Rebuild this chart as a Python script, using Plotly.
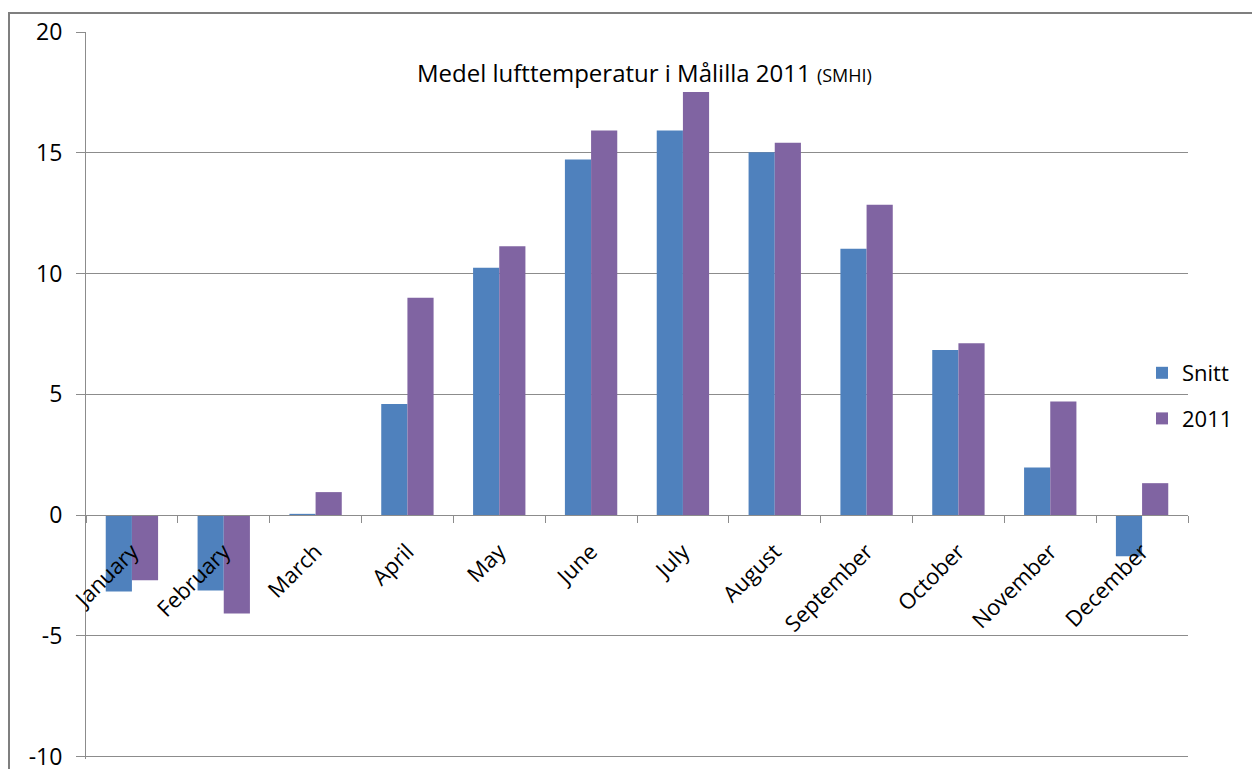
import plotly.graph_objects as go

months = ["January", "February", "March", "April", "May", "June", "July",
          "August", "September", "October", "November", "December"]
snitt = [-3.16, -3.12, 0.05, 4.6, 10.24, 14.72, 15.92, 15.02, 11.03, 6.83, 1.97, -1.71]
y2011 = [-2.70, -4.08, 0.95, 9.0, 11.13, 15.92, 17.52, 15.41, 12.85, 7.11, 4.7, 1.32]
y_ticks = [-10, -5, 0, 5, 10, 15, 20]
y_ticktext = ["-10", "-5", "0", "5", "10", "15", "20"]

FONT = "Open Sans"
GRID = "#8c8c8c"

fig = go.Figure()
fig.add_trace(go.Bar(name="Snitt", x=months, y=snitt, marker=dict(color="#4F81BD", line=dict(width=0)),
                     legendgroup="a"))
fig.add_trace(go.Bar(name="2011", x=months, y=y2011, marker=dict(color="#8064A2", line=dict(width=0)),
                     legendgroup="b"))

W, H = 1252, 800
L, R, T, B = 86, 64, 32, 41
pw = W - L - R
ph = H - T - B

fig.update_layout(
    width=W, height=H,
    margin=dict(l=L, r=R, t=T, b=B, autoexpand=False),
    paper_bgcolor="white", plot_bgcolor="white",
    barmode="group", bargap=0.43, bargroupgap=0,
    font=dict(family=FONT, color="#000000", size=22),
    legend=dict(x=(1142 - L) / pw, xanchor="left", y=(T + ph - 396) / ph, yanchor="middle",
                font=dict(size=22, family=FONT), tracegroupgap=14, bgcolor="rgba(0,0,0,0)"),
    xaxis=dict(anchor="free", position=10.1 / 30.1, type="category",
               showline=True, linecolor=GRID, linewidth=1,
               ticks="outside", tickson="boundaries", ticklen=7, tickcolor=GRID,
               tickangle=-45, ticklabelstandoff=14, tickfont=dict(size=22, family=FONT),
               showgrid=False),
    yaxis=dict(range=[-10.1, 20], tickvals=y_ticks, ticktext=y_ticktext,
               showline=True, linecolor=GRID, linewidth=1,
               ticks="outside", ticklen=9, tickcolor=GRID,
               showgrid=True, gridcolor=GRID, gridwidth=1,
               zeroline=True, zerolinecolor=GRID, zerolinewidth=1,
               tickfont=dict(size=23, family=FONT), ticklabelstandoff=9),
    annotations=[dict(text="Medel lufttemperatur i Målilla 2011 <span style='font-size:18px'>(SMHI)</span>",
                      xref="paper", yref="paper", x=(644 - L) / pw, y=(T + ph - 72) / ph,
                      xanchor="center", yanchor="middle", showarrow=False,
                      font=dict(size=24, family=FONT, color="#000000"))],
    shapes=[dict(type="rect", xref="paper", yref="paper",
                 x0=(9 - L) / pw, x1=(1300 - L) / pw, y0=-0.1, y1=(T + ph - 13) / ph,
                 line=dict(color="#7f7f7f", width=2), fillcolor="rgba(0,0,0,0)", layer="below")],
)

fig.write_html("out.html", config={"displayModeBar": False},
               post_script="document.body.style.margin='0';")
